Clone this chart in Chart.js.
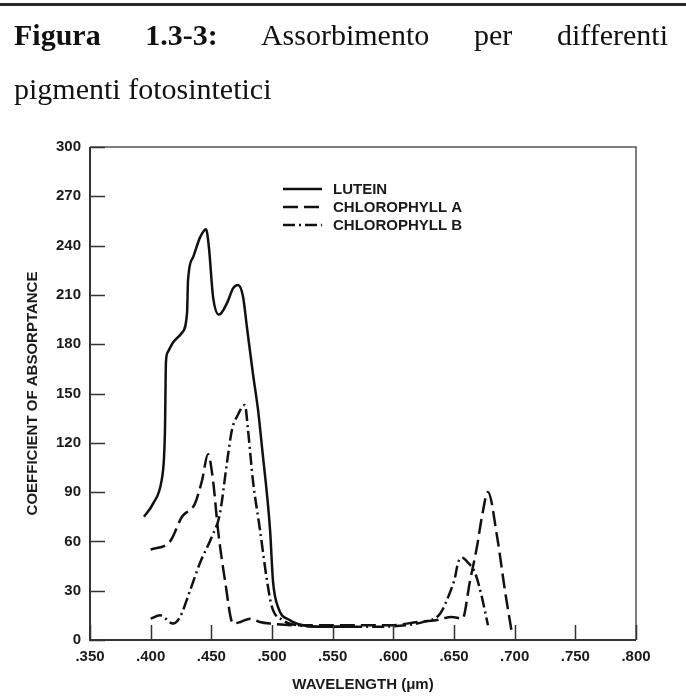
<!DOCTYPE html>
<html>
<head>
<meta charset="utf-8">
<script src="https://cdn.jsdelivr.net/npm/chart.js@4/dist/chart.umd.min.js"></script>
<style>
  body { margin: 0; background: #fff; }
  #page { position: relative; width: 686px; height: 698px; overflow: hidden; background: #fff; }
  #page canvas { position: absolute; left: 0; top: 0; }
  .rule { position: absolute; left: 0; top: 3px; width: 686px; height: 3px; background: #2b2b2b; }
  .cap {
    position: absolute; left: 14px; width: 654px;
    font-family: "Liberation Serif", "Times New Roman", serif;
    font-size: 30px; line-height: 30px; color: #111; white-space: nowrap; z-index: 2;
  }
  .cap.l1 { top: 20px; text-align: justify; text-align-last: justify; white-space: normal; }
  .cap.l2 { top: 74px; }
</style>
</head>
<body>
<div id="page">
  <div class="rule"></div>
  <div class="cap l1"><b>Figura 1.3-3:</b> Assorbimento per differenti</div>
  <div class="cap l2">pigmenti fotosintetici</div>
  <canvas id="chart" width="686" height="698"></canvas>
</div>
<script>
// axis ticks
const wavelengthTicks = [0.35, 0.40, 0.45, 0.50, 0.55, 0.60, 0.65, 0.70, 0.75, 0.80];
const absorptanceTicks = [0, 30, 60, 90, 120, 150, 180, 210, 240, 270, 300];

// lutein (solid)
const luteinX = [0.3945, 0.402, 0.409, 0.411, 0.4118, 0.4126, 0.414, 0.4184, 0.4258, 0.430, 0.4308,
  0.435, 0.4407, 0.4456, 0.448, 0.4514, 0.4563, 0.4629, 0.4679, 0.472, 0.4761, 0.4794, 0.4843,
  0.4885, 0.4918, 0.4984, 0.5008, 0.505, 0.5148, 0.5256, 0.545, 0.565];
const luteinY = [75, 83, 97, 111, 128, 169, 175, 181, 187, 199, 219,
  233, 245, 250, 239, 209, 198, 205, 214, 216, 209, 190, 162,
  140, 117, 67, 36, 20, 12, 9, 8, 8];

// chlorophyll a (dashed)
const chlAX = [0.400, 0.416, 0.4258, 0.4365, 0.4423, 0.4473, 0.4514, 0.4555, 0.4613, 0.4679,
  0.474, 0.482, 0.490, 0.4984, 0.52, 0.55, 0.58, 0.60, 0.62, 0.635, 0.648, 0.657,
  0.6632, 0.669, 0.673, 0.678, 0.6855, 0.692, 0.698];
const chlAY = [55, 60, 75, 83, 97, 113, 97, 67, 36, 10,
  11, 13, 11, 10, 9, 9, 9, 9, 11, 12, 14, 13,
  36, 57, 75, 90, 63, 30, 3];

// chlorophyll b (dash-dot)
const chlBX = [0.400, 0.4077, 0.4184, 0.4242, 0.4324, 0.4407, 0.4505, 0.4571, 0.4629, 0.467,
  0.4712, 0.4777, 0.4802, 0.4843, 0.4901, 0.4959, 0.500, 0.5091, 0.5206, 0.55, 0.58,
  0.61, 0.625, 0.6385, 0.6467, 0.6508, 0.6533, 0.6566, 0.6616, 0.6673, 0.673, 0.678];
const chlBY = [13, 15, 10, 14, 30, 47, 63, 77, 108, 128,
  136, 143, 128, 97, 67, 36, 20, 12, 9, 8, 8,
  9, 11, 16, 29, 38, 47, 50, 47, 41, 26, 9];

const labelFont = { family: 'Liberation Sans, Arial, sans-serif', size: 15, weight: 'bold' };
const ink = '#1a1a1a';

const pairs = (xs, ys) => xs.map((x, i) => ({ x: x, y: ys[i] }));

function series(label, xs, ys, dash) {
  return {
    label: label,
    data: pairs(xs, ys),
    borderColor: '#111',
    borderWidth: 2.5,
    borderDash: dash,
    pointRadius: 0,
    fill: false,
    cubicInterpolationMode: 'monotone'
  };
}

// box around the plot plus the inward tick marks
const frameTicks = {
  id: 'frameTicks',
  afterDatasetsDraw(chart) {
    const { ctx, chartArea: a, scales: { x, y } } = chart;
    ctx.save();
    ctx.lineCap = 'butt';
    ctx.strokeStyle = '#333';
    ctx.lineWidth = 2;
    ctx.beginPath();
    ctx.moveTo(a.left, a.top);
    ctx.lineTo(a.left, a.bottom);
    ctx.lineTo(a.right, a.bottom);
    ctx.stroke();
    ctx.strokeStyle = '#555';
    ctx.lineWidth = 1.5;
    ctx.beginPath();
    ctx.moveTo(a.left, a.top);
    ctx.lineTo(a.right, a.top);
    ctx.lineTo(a.right, a.bottom);
    ctx.stroke();
    ctx.strokeStyle = '#333';
    ctx.lineWidth = 1.5;
    ctx.beginPath();
    y.ticks.forEach(t => {
      const py = Math.round(y.getPixelForValue(t.value)) + 0.5;
      ctx.moveTo(a.left, py);
      ctx.lineTo(a.left + 15, py);
    });
    x.ticks.forEach(t => {
      const px = Math.round(x.getPixelForValue(t.value)) + 0.5;
      ctx.moveTo(px, a.bottom);
      ctx.lineTo(px, a.bottom - 15);
    });
    ctx.stroke();
    ctx.restore();
  }
};

// line-style key in the upper middle of the plot
const styleKey = {
  id: 'styleKey',
  afterDatasetsDraw(chart) {
    const { ctx, chartArea: a } = chart;
    const x0 = a.left + 193, x1 = a.left + 232, tx = a.left + 243;
    ctx.save();
    ctx.font = 'bold 15px "Liberation Sans", Arial, sans-serif';
    ctx.fillStyle = ink;
    ctx.textBaseline = 'middle';
    chart.data.datasets.forEach((ds, i) => {
      const yy = a.top + 42 + i * 18;
      ctx.strokeStyle = '#111';
      ctx.lineWidth = 2.5;
      ctx.setLineDash(ds.borderDash || []);
      ctx.beginPath();
      ctx.moveTo(x0, yy);
      ctx.lineTo(x1, yy);
      ctx.stroke();
      ctx.setLineDash([]);
      ctx.fillText(ds.label, tx, yy + 1);
    });
    ctx.restore();
  }
};

new Chart(document.getElementById('chart'), {
  type: 'line',
  data: {
    datasets: [
      series('LUTEIN', luteinX, luteinY, []),
      series('CHLOROPHYLL A', chlAX, chlAY, [15, 6]),
      series('CHLOROPHYLL B', chlBX, chlBY, [12, 4, 2, 4])
    ]
  },
  options: {
    responsive: false,
    animation: false,
    layout: { padding: { top: 147, right: 50, left: 0, bottom: 0 } },
    plugins: {
      legend: { display: false },
      tooltip: { enabled: false }
    },
    scales: {
      x: {
        type: 'linear',
        min: 0.35,
        max: 0.80,
        afterBuildTicks: s => { s.ticks = wavelengthTicks.map(v => ({ value: v })); },
        afterFit: s => { s.height = 58; },
        grid: { display: false, drawTicks: false },
        border: { display: false },
        ticks: {
          font: labelFont,
          color: ink,
          padding: 8,
          maxRotation: 0,
          autoSkip: false,
          callback: v => v.toFixed(3).replace(/^0/, '')
        },
        title: {
          display: true,
          text: 'WAVELENGTH (μm)',
          font: labelFont,
          color: ink,
          padding: { top: 0, bottom: 4 }
        }
      },
      y: {
        min: 0,
        max: 300,
        afterBuildTicks: s => { s.ticks = absorptanceTicks.map(v => ({ value: v })); },
        afterFit: s => { s.width = 90; },
        grid: { display: false, drawTicks: false },
        border: { display: false },
        ticks: {
          font: labelFont,
          color: ink,
          padding: 9
        },
        title: {
          display: true,
          text: 'COEFFICIENT OF ABSORPTANCE',
          font: labelFont,
          color: ink,
          padding: { top: 24, bottom: 0 }
        }
      }
    }
  },
  plugins: [frameTicks, styleKey]
});
</script>
</body>
</html>
